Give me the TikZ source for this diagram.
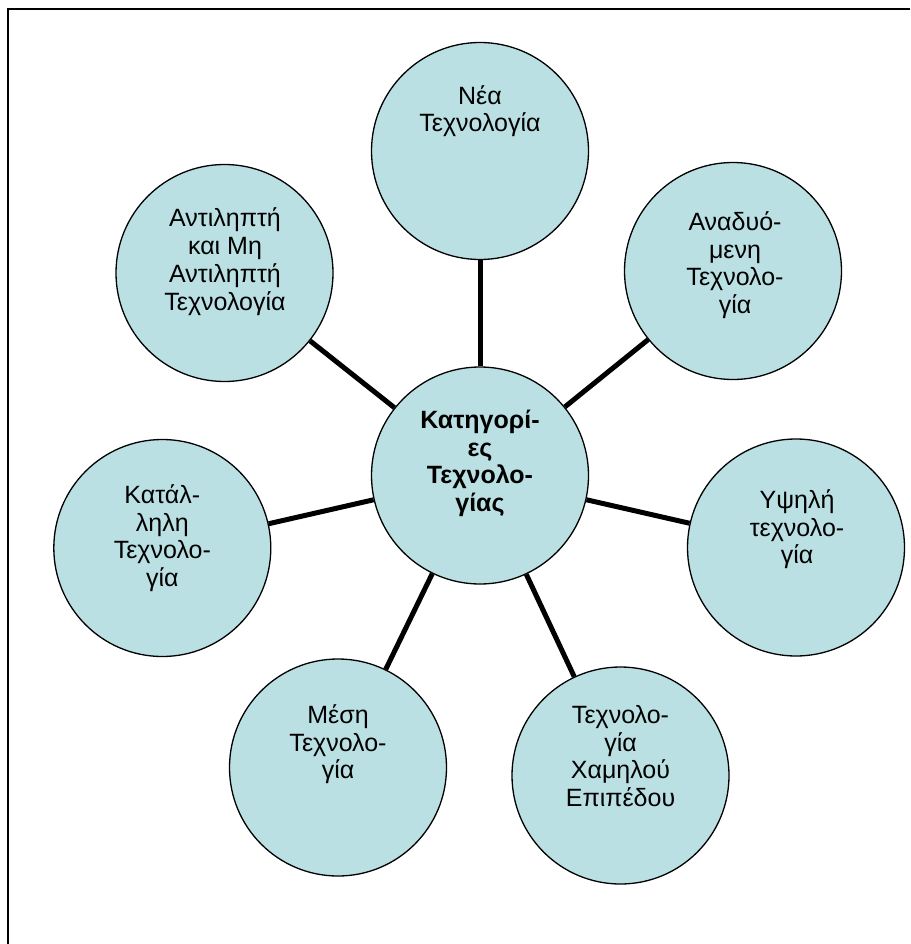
\documentclass[tikz,border=0pt]{standalone}
\usepackage{fontspec}
\setmainfont{Liberation Sans}
\usetikzlibrary{calc}
\definecolor{bubblefill}{RGB}{186,224,227}
% invisible strut fixing the height of a label's first line
\newcommand\topln{\rule{0pt}{19pt}}
\begin{document}
\begin{tikzpicture}[x=1pt,y=-1pt,
  bubble/.style={circle,draw=black,line width=1.3pt,fill=bubblefill,
    minimum size=217pt,inner sep=0pt},
  lbl/.style={anchor=north,align=center,inner sep=0pt,
    font=\fontsize{25}{27.8}\selectfont},
  link/.style={line width=5pt,draw=black},
  frameline/.style={line width=2.3pt,draw=black}]
\useasboundingbox (0,0) rectangle (910,944);
\fill[white] (0,0) rectangle (910,944);

% page frame (left and top edges)
\coordinate (fbl) at (7.8,944);
\coordinate (ftl) at (7.8,9.3);
\coordinate (ftr) at (910,9.3);
\draw[frameline] (fbl) -- (ftl) -- (ftr);

% circles
\node[bubble] (hub)  at (480,475.5) {};
\node[bubble] (nea)  at (480,151)   {};
\node[bubble] (anad) at (733,271)   {};
\node[bubble] (ypsi) at (796,547.5) {};
\node[bubble] (xam)  at (620.5,775.5) {};
\node[bubble] (mesi) at (338,767.5) {};
\node[bubble] (kat)  at (162.3,548) {};
\node[bubble] (ant)  at (224.5,273) {};

% spokes
\foreach \s in {nea,anad,ypsi,xam,mesi,kat,ant}
  \draw[link] (hub) -- (\s);

% labels (first baseline 19pt below the anchor)
\node[lbl,font=\fontsize{25}{27.8}\selectfont\bfseries] (thub) at (480,409)
  {\topln Κατηγορί-\\ες\\Τεχνολο-\\γίας};
\node[lbl] (tnea)  at (480,85)    {\topln Νέα\\Τεχνολογία};
\node[lbl] (tanad) at (735,211)   {\topln Αναδυό-\\μενη\\Τεχνολο-\\γία};
\node[lbl] (typsi) at (797,489)   {\topln Υψηλή\\τεχνολο-\\γία};
\node[lbl] (txam)  at (620.5,704) {\topln Τεχνολο-\\γία\\Χαμηλού\\Επιπέδου};
\node[lbl] (tmesi) at (338,704)   {\topln Μέση\\Τεχνολο-\\γία};
\node[lbl] (tkat)  at (162.3,484) {\topln Κατάλ-\\ληλη\\Τεχνολο-\\γία};
\node[lbl] (tant)  at (225,207.7) {\topln Αντιληπτή\\και Μη\\Αντιληπτή\\Τεχνολογία};
\end{tikzpicture}
\end{document}
